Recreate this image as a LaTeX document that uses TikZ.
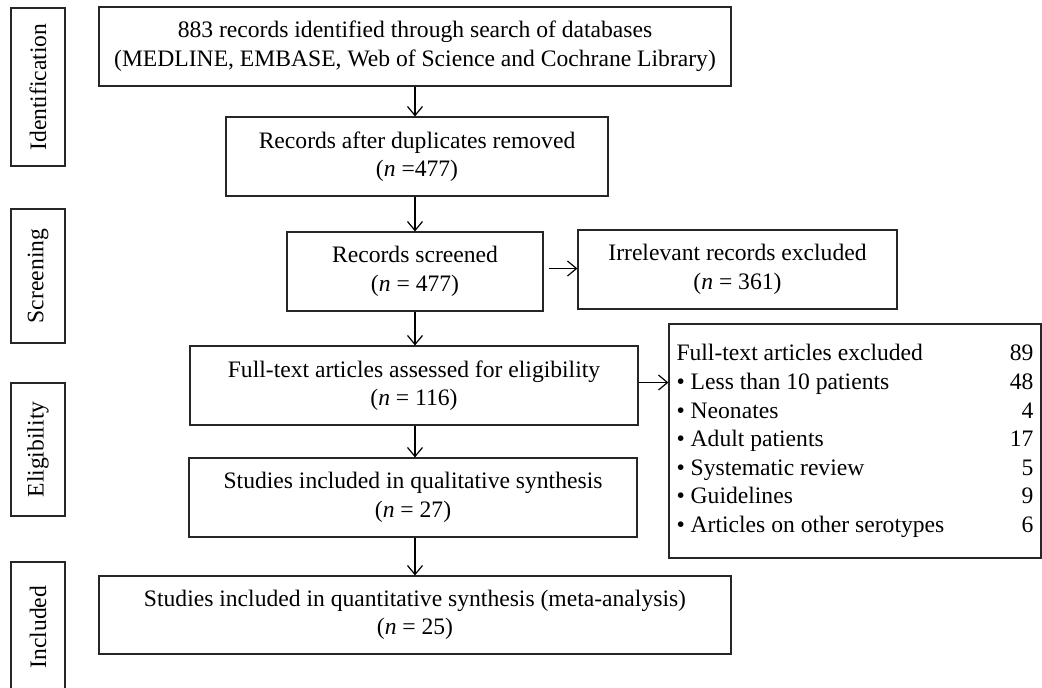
\documentclass[tikz,border=0pt]{standalone}
\usepackage{fontspec}
\setmainfont{Liberation Serif}
\usetikzlibrary{arrows.meta}

\begin{document}
\begin{tikzpicture}[x=0.5pt,y=-0.5pt,
    box/.style={draw=black!85,line width=0.6pt,align=center,minimum height=39.5pt,inner sep=2pt,
        font=\fontsize{11.8}{14.3}\selectfont},
    phase/.style={draw=black!85,line width=0.6pt,rotate=90,minimum height=27pt,inner sep=1pt,
        font=\fontsize{11.8}{14.3}\selectfont},
    arr/.style={-{Straight Barb[length=4.5pt,width=7.5pt]},line width=0.6pt}]
\useasboundingbox (0,0) rectangle (1042,687);
% Phase labels
\node[phase,minimum width=79pt] (ident) at (38,87) {Identification};
\node[phase,minimum width=67pt] (screen) at (38,276) {Screening};
\node[phase,minimum width=66.5pt] (elig) at (38,449.5) {Eligibility};
\node[phase,minimum width=65pt] (incl) at (38,627) {Included};
% Main boxes
\node[box,minimum width=316pt] (search) at (415,46.5) {883 records identified through search of databases\\(MEDLINE, EMBASE, Web of Science and Cochrane Library)};
\node[box,minimum width=191pt] (dupl) at (417,156.5) {Records after duplicates removed\\(\textit{n} =477)};
\node[box,minimum width=128pt] (screened) at (415,271.5) {Records screened\\(\textit{n} = 477)};
\node[box,minimum width=224pt] (fulltext) at (414,385.5) {Full-text articles assessed for eligibility\\(\textit{n} = 116)};
\node[box,minimum width=224pt] (qual) at (413,497.5) {Studies included in qualitative synthesis\\(\textit{n} = 27)};
\node[box,minimum width=316pt,minimum height=39pt] (quant) at (415,615) {Studies included in quantitative synthesis (meta-analysis)\\(\textit{n} = 25)};
% Exclusions
\node[box,minimum width=159.5pt] (irrel) at (737.5,269.5) {Irrelevant records excluded\\(\textit{n} = 361)};
\node[box,minimum width=186pt,minimum height=117pt,inner xsep=3.5pt] (excl) at (855,441) {%
  \begin{tabular*}{178.5pt}{@{}l@{\extracolsep{\fill}}r@{}}
  Full-text articles excluded & 89\\
  \textbullet\ Less than 10 patients & 48\\
  \textbullet\ Neonates & 4\\
  \textbullet\ Adult patients & 17\\
  \textbullet\ Systematic review & 5\\
  \textbullet\ Guidelines & 9\\
  \textbullet\ Articles on other serotypes & 6
  \end{tabular*}};
% Arrows down
\draw[arr] (search.south) -- (search.south |- dupl.north);
\draw[arr] (search.south |- dupl.south) -- (search.south |- screened.north);
\draw[arr] (screened.south) -- (screened.south |- fulltext.north);
\draw[arr] (screened.south |- fulltext.south) -- (screened.south |- qual.north);
\draw[arr] (screened.south |- qual.south) -- (screened.south |- quant.north);
% Arrows right
\draw[arr] (screened.east) ++(5,-3) coordinate (s1) -- (s1 -| irrel.west);
\draw[arr] (fulltext.east) ++(0,-3) coordinate (f1) -- (f1 -| excl.west);
\end{tikzpicture}
\end{document}
